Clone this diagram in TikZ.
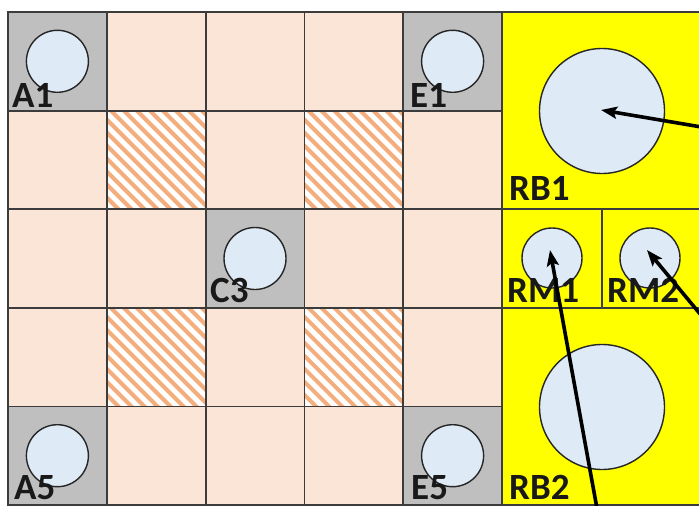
\documentclass[tikz,border=0pt]{standalone}
\usepackage{fontspec}
\setmainfont{Carlito}
\usetikzlibrary{arrows.meta,calc}
\definecolor{salmon}{RGB}{251,229,214}
\definecolor{cellgray}{RGB}{191,191,191}
\definecolor{ball}{RGB}{222,235,247}
\definecolor{hatchc}{RGB}{244,174,125}
\definecolor{gridline}{RGB}{60,60,60}
\definecolor{panel}{RGB}{255,255,0}
\begin{document}
\begin{tikzpicture}[x=1pt,y=-1pt,
  cell/.style={minimum width=98.8pt,minimum height=98.6pt,inner sep=0pt,outer sep=0pt,fill=salmon},
  pcell/.style={inner sep=0pt,outer sep=0pt,fill=panel},
  gridpen/.style={draw=gridline,line width=1.8pt},
  hatchline/.style={draw=hatchc,line width=4pt},
  ballsmall/.style={circle,draw=black!85,line width=1.4pt,fill=ball,minimum size=62pt,inner sep=0pt},
  ballbig/.style={circle,draw=black!85,line width=1.4pt,fill=ball,minimum size=125pt,inner sep=0pt},
  lbl/.style={font=\fontsize{37}{40}\selectfont\bfseries,inner sep=0pt,anchor=base west,text=black!90},
  arr/.style={line width=3.6pt,-{Stealth[length=16pt,width=12pt,inset=3pt]}}]
\useasboundingbox (0,0) rectangle (699,506);
\clip (0,0) rectangle (699,506);
\fill[white] (0,0) rectangle (699,506);
% grid cells
\foreach \i/\l in {1/A,2/B,3/C,4/D,5/E}{
  \foreach \j in {1,...,5}{
    \node[cell] (\l\j) at ({8+98.8*(\i-0.5)},{12+98.6*(\j-0.5)}) {};
  }
}
% gray cells
\foreach \n in {A1,E1,C3,A5,E5}{
  \fill[cellgray] (\n.north west) rectangle (\n.south east);
}
% hatched cells
\foreach \n in {B2,D2,B4,D4}{
  \fill[white] (\n.north west) rectangle (\n.south east);
  \begin{scope}
    \clip (\n.north west) rectangle (\n.south east);
    \foreach \o in {-117,-104,...,117}{
      \draw[hatchline] ($(\n.north west)+(\o,-4)$) -- ++(110,110);
    }
  \end{scope}
}
% grid lines
\foreach \l in {A,B,C,D,E}{
  \foreach \j in {1,...,5}{
    \draw[gridpen] (\l\j.north west) rectangle (\l\j.south east);
  }
}
% right panel
\path[pcell] (502,12) rectangle (702,209.2);
\path[pcell] (502,209.2) rectangle (702,307.8);
\path[pcell] (502,307.8) rectangle (702,505);
\coordinate (RB1c) at (602,111);
\coordinate (RM1c) at (552,258);
\coordinate (RM2c) at (650,258);
\coordinate (RB2c) at (602,407);
\draw[gridpen] (502,12) rectangle (702,209.2);
\draw[gridpen] (502,209.2) rectangle (602,307.8);
\draw[gridpen] (602,209.2) rectangle (702,307.8);
\draw[gridpen] (502,307.8) rectangle (702,505);
% circles
\foreach \n in {A1,E1,C3,A5,E5}{
  \node[ballsmall] (b\n) at (\n) {};
}
\node[ballbig] (bRB1) at (RB1c) {};
\node[ballbig] (bRB2) at (RB2c) {};
\node[ballsmall,minimum size=60pt] (bRM1) at (RM1c) {};
\node[ballsmall,minimum size=60pt] (bRM2) at (RM2c) {};
% labels
\node[lbl] (lA1) at (12,107) {A1};
\node[lbl] (lE1) at (410,107) {E1};
\node[lbl] (lC3) at (210,302) {C3};
\node[lbl] (lA5) at (14,499) {A5};
\node[lbl] (lE5) at (411,499) {E5};
\node[lbl] (lRB1) at (509,200) {RB1};
\node[lbl] (lRM1) at (507,302) {RM1};
\node[lbl] (lRM2) at (607,302) {RM2};
\node[lbl] (lRB2) at (509,499) {RB2};
% arrows
\coordinate (f1) at (725,131);
\coordinate (f2) at (600,525);
\coordinate (f3) at (725,344);
\draw[arr] (f1) -- ([shift={(-1,-1)}]bRB1.center);
\draw[arr] (f2) -- ([shift={(-2,-8)}]bRM1.center);
\draw[arr] (f3) -- ([shift={(-3,-8)}]bRM2.center);
\end{tikzpicture}
\end{document}
